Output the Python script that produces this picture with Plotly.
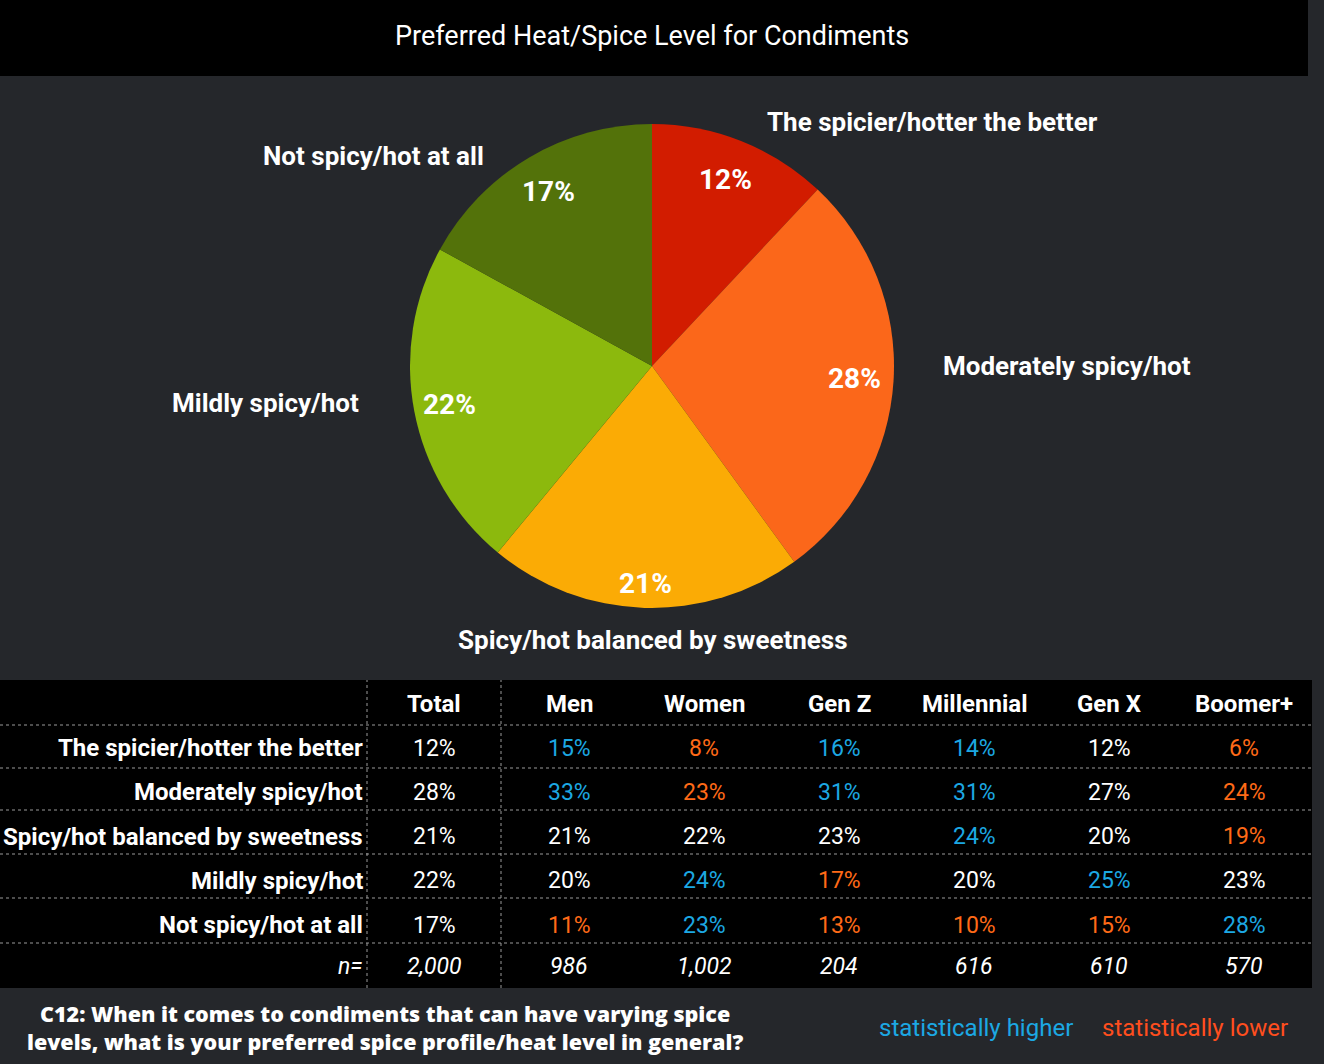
import math
import plotly.graph_objects as go

W, H = 1324, 1064

# ---------------- data ----------------
categories = ["The spicier/hotter the better", "Moderately spicy/hot",
              "Spicy/hot balanced by sweetness", "Mildly spicy/hot", "Not spicy/hot at all"]
total_pct = [12, 28, 21, 22, 17]
slice_colors = ["#D21C00", "#FB671A", "#FBAB05", "#8CB90D", "#53720A"]

columns = ["Total", "Men", "Women", "Gen Z", "Millennial", "Gen X", "Boomer+"]
men = [15, 33, 21, 20, 11]
women = [8, 23, 22, 24, 23]
genz = [16, 31, 23, 17, 13]
millennial = [14, 31, 24, 20, 10]
genx = [12, 27, 20, 25, 15]
boomer = [6, 24, 19, 23, 28]
# significance: "H" statistically higher, "L" statistically lower, "" none
sig_total = ["", "", "", "", ""]
sig_men = ["H", "H", "", "", "L"]
sig_women = ["L", "L", "", "H", "H"]
sig_genz = ["H", "H", "", "L", "L"]
sig_millennial = ["H", "H", "H", "", "L"]
sig_genx = ["", "", "", "H", "L"]
sig_boomer = ["L", "L", "L", "", "H"]
n_sizes = ["2,000", "986", "1,002", "204", "616", "610", "570"]

title_text = "Preferred Heat/Spice Level for Condiments"
question_text = ("C12: When it comes to condiments that can have varying spice<br>"
                 "levels, what is your preferred spice profile/heat level in general?")

# ---------------- style ----------------
BG = "#25272b"
BLUE = "#1CA8E3"
ORANGE = "#FF6A17"
RED_LEGEND = "#FF4E1E"
FONT = "Roboto"
sig_color = {"H": BLUE, "L": ORANGE, "": "white"}


def px(x):
    return x / W


def py(y):
    return 1 - y / H


def note(x, y, text, size, color="white", weight="normal", xanchor="center",
         family=FONT, align="center"):
    return dict(x=px(x), y=py(y), xref="paper", yref="paper", text=text,
                xanchor=xanchor, yanchor="middle", showarrow=False, align=align,
                font=dict(family=family, size=size, color=color, weight=weight))


# pie geometry (pixels)
CX, CY, R = 652, 366, 242

fig = go.Figure()
fig.add_trace(go.Pie(
    labels=categories, values=total_pct, sort=False, direction="clockwise",
    rotation=0, textinfo="none", hoverinfo="label+percent",
    marker=dict(colors=slice_colors, line=dict(width=0)),
    domain=dict(x=[px(CX - R), px(CX + R)], y=[py(CY + R), py(CY - R)]),
    showlegend=False,
))

annotations = []
shapes = []

# percentage labels inside slices, placed from cumulative angles
tot = sum(total_pct)
cum = 0
radial = [0.83, 0.84, 0.9, 0.85, 0.84]
for v, rf in zip(total_pct, radial):
    mid = (cum + v / 2) / tot * 2 * math.pi
    cum += v
    x = CX + rf * R * math.sin(mid)
    y = CY - rf * R * math.cos(mid)
    annotations.append(note(x, y, f"{v}%", 28, weight="bold"))

# outer category labels (text layout positions in pixels)
outer_pos = [(765, 122, "left"), (941, 366, "left"), (653, 640, "center"),
             (361, 403, "right"), (486, 156, "right")]
for cat, (x, y, anc) in zip(categories, outer_pos):
    annotations.append(note(x, y, cat, 26, weight="bold", xanchor=anc))

# title bar
shapes.append(dict(type="rect", xref="paper", yref="paper", x0=0, x1=px(1308),
                   y0=py(76), y1=1, fillcolor="black", line=dict(width=0), layer="below"))
annotations.append(note(652, 36, title_text, 27))

# table
T_TOP, T_BOT, T_RIGHT = 680, 988, 1312
shapes.append(dict(type="rect", xref="paper", yref="paper", x0=0, x1=px(T_RIGHT),
                   y0=py(T_BOT), y1=py(T_TOP), fillcolor="black", line=dict(width=0), layer="below"))
for vx in (367, 501):
    shapes.append(dict(type="line", xref="paper", yref="paper", x0=px(vx), x1=px(vx),
                       y0=py(T_BOT), y1=py(T_TOP),
                       line=dict(color="#9a9a9a", width=1, dash="dot")))
for sy in (725, 768, 810, 854, 898, 943):
    shapes.append(dict(type="line", xref="paper", yref="paper", x0=0, x1=px(T_RIGHT),
                       y0=py(sy), y1=py(sy),
                       line=dict(color="#9a9a9a", width=1, dash="dot")))

col_x0, col_dx = 434, 135
header_y = 704
row_y0, row_dy = 748, 44.3
n_y = 966
col_values = [total_pct, men, women, genz, millennial, genx, boomer]
col_sigs = [sig_total, sig_men, sig_women, sig_genz, sig_millennial, sig_genx, sig_boomer]

for j, name in enumerate(columns):
    annotations.append(note(col_x0 + j * col_dx, header_y, name, 24, weight="bold"))
for i, cat in enumerate(categories):
    yy = row_y0 + i * row_dy
    annotations.append(note(365, yy, cat, 24, weight="bold", xanchor="right"))
    for j in range(len(columns)):
        annotations.append(note(col_x0 + j * col_dx, yy, f"{col_values[j][i]}%", 23,
                                color=sig_color[col_sigs[j][i]]))
annotations.append(note(365, n_y, "<i>n=</i>", 23, xanchor="right"))
for j, n in enumerate(n_sizes):
    annotations.append(note(col_x0 + j * col_dx, n_y, f"<i>{n}</i>", 23))

# footer
annotations.append(note(385, 1027, question_text, 21.5, weight=800, family="Open Sans"))
annotations.append(note(1075, 1028, "statistically higher", 24, color=BLUE, xanchor="right"))
annotations.append(note(1100, 1028, "statistically lower", 24, color=RED_LEGEND, xanchor="left"))

fig.update_layout(
    width=W, height=H, margin=dict(l=0, r=0, t=0, b=0),
    paper_bgcolor=BG, plot_bgcolor=BG,
    annotations=annotations, shapes=shapes,
)

fig.write_html("out.html", config={"displayModeBar": False},
               post_script="document.body.style.margin='0';")
